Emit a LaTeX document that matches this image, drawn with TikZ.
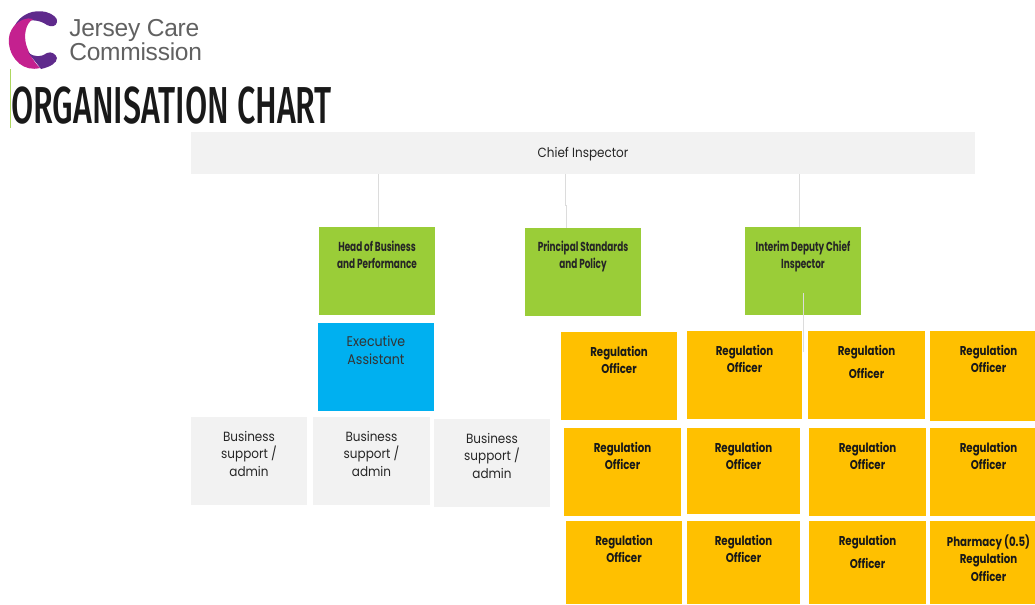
\documentclass[tikz,border=0pt]{standalone}
\usepackage{fontspec}
\setmainfont{Poppins}
\newfontfamily\logofont[LetterSpace=-1.0]{Liberation Sans}
\newfontfamily\titlefont[FakeStretch=0.62]{Fira Sans Medium}
\newfontfamily\roundfont[FakeStretch=0.9]{Poppins}
\newfontfamily\boldnarrow[FakeStretch=0.8]{Poppins}
\newfontfamily\greenfont[FakeStretch=0.68]{Poppins}
\definecolor{boxgray}{HTML}{F2F2F2}
\definecolor{boxgreen}{HTML}{9ACD38}
\definecolor{boxblue}{HTML}{00B0F0}
\definecolor{boxorange}{HTML}{FFC000}
\definecolor{linkgray}{HTML}{DCDCDC}
\definecolor{magentalogo}{HTML}{C4218F}
\definecolor{purplelogo}{HTML}{5F2A8C}
\tikzset{
  grayfill/.style={fill=boxgray,font=\roundfont\fontsize{10pt}{13pt}\selectfont,text=black!85},
  greenfill/.style={fill=boxgreen,font=\greenfont\bfseries\fontsize{9.8pt}{13pt}\selectfont,text=black!85},
  bluefill/.style={fill=boxblue,font=\roundfont\fontsize{10.5pt}{12.9pt}\selectfont,text=black!80},
  orangefill/.style={fill=boxorange,font=\boldnarrow\bfseries\fontsize{9.6pt}{13pt}\selectfont,text=black!90},
  link/.style={draw=linkgray,line width=0.75pt},
}
% name, x1, y1, x2, y2, style, text top offset, text (all in reference pixels)
\newcommand{\pxbox}[8]{%
  \node[#6,inner sep=0pt,outer sep=0pt,anchor=north west] (#1) at (#2,#3)
    {\parbox[c][\dimexpr 0.75pt*\numexpr #5-#3\relax\relax][t]{\dimexpr 0.75pt*\numexpr #4-#2\relax\relax}{\centering\vspace*{#7pt}#8\par}};}
\newcommand{\shiftr}{\hspace*{9pt}}
\begin{document}
\begin{tikzpicture}[x=0.75pt,y=-0.75pt]
\useasboundingbox (0,0) rectangle (1035,604);
% logo
\fill[purplelogo] (14,27) .. controls (20,14) and (34,9) .. (46,12) .. controls (53,14) and (58,18) .. (57,22) .. controls (56,27) and (51,27) .. (47,25) .. controls (40,20) and (28,17) .. (14,27) -- cycle;
\fill[magentalogo] (14,26) .. controls (20,20) and (27,17) .. (33,19) .. controls (25,24) and (24,36) .. (26,44) .. controls (28,51) and (32,60) .. (40,68) .. controls (24,72) and (11,60) .. (9,44) .. controls (8,37) and (10,31) .. (14,26) -- cycle;
\fill[purplelogo] (28,52) .. controls (34,58) and (42,57) .. (47,53) .. controls (51,51) and (56,54) .. (57,58) .. controls (57,63) and (50,67) .. (41,69) .. controls (36,62) and (31,57) .. (28,52) -- cycle;
\node[inner sep=0pt,anchor=north west,align=left,text=black!62,font=\logofont\fontsize{18.4pt}{16.4pt}\selectfont] (logotext) at (69,19) {Jersey Care\\Commission};
% title
\coordinate (ruletop) at (10.5,69);
\coordinate (rulebottom) at (10.5,128);
\draw[boxgreen!80,line width=0.9pt] (ruletop) -- (rulebottom);
\node[inner sep=0pt,anchor=west,text=black!90,font=\titlefont\fontsize{39pt}{39pt}\selectfont] (title) at (11,106) {ORGANISATION CHART};
% boxes
\pxbox{chief}{191}{132}{975}{174}{grayfill}{11.2}{Chief Inspector}
\pxbox{headbiz}{319}{227}{435}{315}{greenfill}{10.6}{Head of Business\\and Performance}
\pxbox{principal}{525}{228}{641}{316}{greenfill}{9.6}{Principal Standards\\and Policy}
\pxbox{deputy}{745}{227}{861}{315}{greenfill}{10.6}{Interim Deputy Chief\\Inspector}
\pxbox{assistant}{318}{323}{434}{411}{bluefill}{10}{Executive\\Assistant}
\pxbox{admina}{191}{417}{307}{505}{grayfill}{10.8}{Business\\support /\\admin}
\pxbox{adminb}{313}{417}{430}{505}{grayfill}{10.8}{Business\\support /\\admin}
\pxbox{adminc}{434}{419}{550}{507}{grayfill}{10.8}{Business\\support /\\admin}
\pxbox{ra}{561}{332}{677}{420}{orangefill}{10.4}{Regulation\\Officer}
\pxbox{rb}{564}{428}{681}{516}{orangefill}{10.4}{Regulation\\Officer}
\pxbox{rc}{566}{521}{682}{604}{orangefill}{10.4}{Regulation\\Officer}
\pxbox{rd}{687}{331}{802}{419}{orangefill}{10.4}{Regulation\\Officer}
\pxbox{re}{687}{428}{800}{514}{orangefill}{10.4}{Regulation\\Officer}
\pxbox{rf}{687}{521}{800}{604}{orangefill}{10.4}{Regulation\\Officer}
\pxbox{rg}{808}{331}{925}{419}{orangefill}{10.4}{Regulation\\[4.5pt]Officer}
\pxbox{rh}{809}{428}{926}{516}{orangefill}{10.4}{Regulation\\Officer}
\pxbox{ri}{809}{521}{926}{604}{orangefill}{10.4}{Regulation\\[4.5pt]Officer}
\pxbox{rj}{930}{331}{1035}{421}{orangefill}{10.4}{\shiftr Regulation\\\shiftr Officer}
\pxbox{rk}{930}{428}{1035}{516}{orangefill}{10.4}{\shiftr Regulation\\\shiftr Officer}
\pxbox{rl}{930}{521}{1035}{604}{orangefill}{10.4}{\shiftr Pharmacy (0.5)\\\shiftr Regulation\\\shiftr Officer}
% connectors
\draw[link] (chief.south -| 378,0) -- (headbiz.north -| 378,0);
\draw[link] (chief.south -| 565,0) -- (565,205) -- (566,205) -- (principal.north -| 566,0);
\draw[link] (chief.south -| 799,0) -- (deputy.north -| 799,0);
\coordinate (deputydrop) at (803,293);
\draw[link] (deputydrop) -- (rd.north -| 803,0) -- (803,352);
\end{tikzpicture}
\end{document}
